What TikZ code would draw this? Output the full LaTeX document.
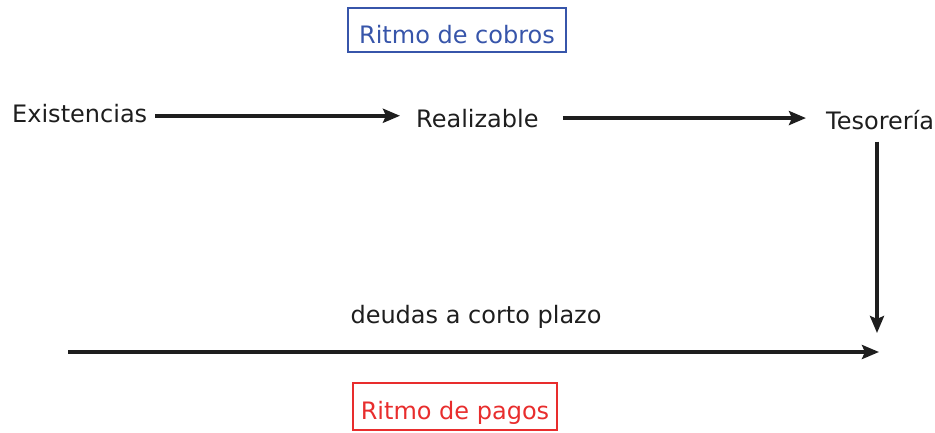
\documentclass[tikz,border=0pt]{standalone}
\usepackage{fontspec}
\setmainfont{DejaVu Sans}
\usetikzlibrary{arrows.meta}
\definecolor{txt}{RGB}{30,30,30}
\definecolor{bluebox}{RGB}{55,85,170}
\definecolor{redbox}{RGB}{232,45,45}
\begin{document}
\begin{tikzpicture}[x=1pt,y=-1pt,
  lbl/.style={font=\fontsize{24}{28}\selectfont, text=txt, inner sep=0pt, anchor=base west},
  arr/.style={draw=txt, line width=3.6pt, -{Stealth[length=17pt,width=14pt,inset=3pt]}},
  boxlbl/.style={font=\fontsize{24}{28}\selectfont, line width=2.8pt, inner ysep=0pt, anchor=base}]
\useasboundingbox (0,0) rectangle (935,432);
\node[boxlbl, draw=bluebox, text=bluebox, minimum width=218pt, text height=35pt, text depth=9pt] (cobros) at (457,43) {Ritmo de cobros};
\node[lbl] (ex) at (12,122) {Existencias};
\node[lbl] (re) at (416,127) {Realizable};
\node[lbl] (ts) at (826,129) {Tesorería};
\node[lbl, anchor=base] (deu) at (476,323) {deudas a corto plazo};
\node[boxlbl, draw=redbox, text=redbox, minimum width=204pt, text height=36pt, text depth=11pt] (pagos) at (455,419) {Ritmo de pagos};
\coordinate (vend) at (877,333);
\coordinate (bstart) at (68,352);
\coordinate (bend) at (879,352);
\draw[arr] ([xshift=8pt,yshift=-2.7pt]ex.east) -- ([xshift=-16pt,yshift=-2.7pt]re.west |- ex.east);
\draw[arr] ([xshift=24pt,yshift=0pt]re.east) -- ([xshift=-20pt]ts.west |- re.east);
\draw[arr] ([yshift=-12pt]ts.south -| vend) -- (vend);
\draw[arr] (bstart) -- (bend);
\end{tikzpicture}
\end{document}
